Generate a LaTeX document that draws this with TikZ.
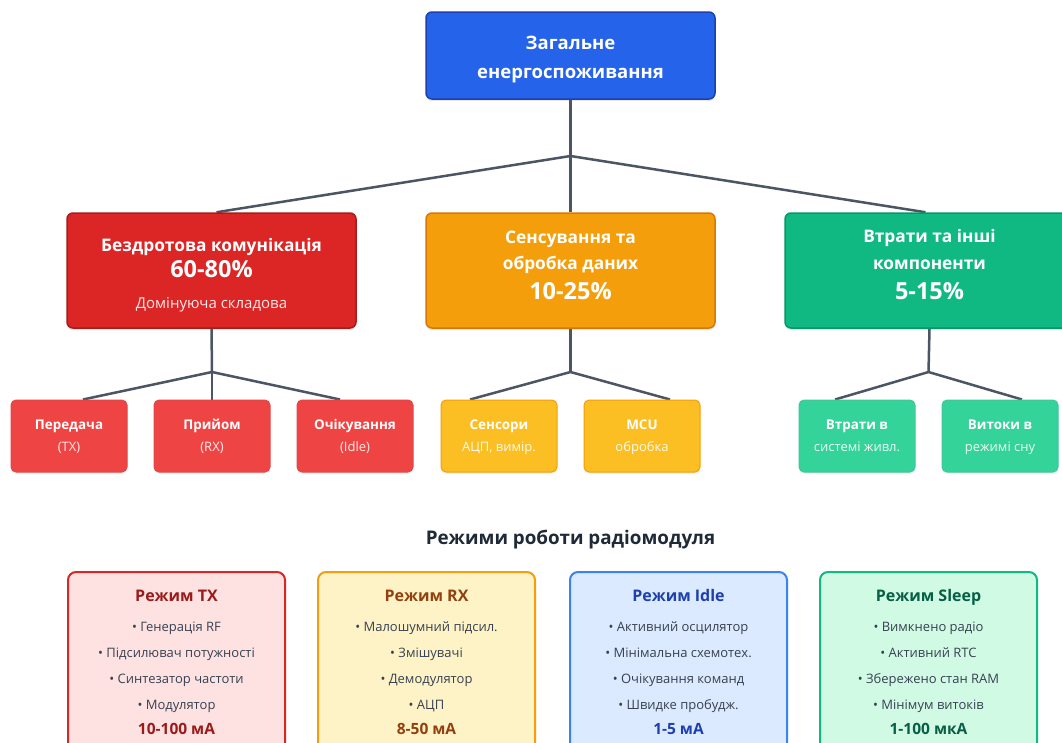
\documentclass[tikz,border=0pt]{standalone}
\usepackage{fontspec}
\setmainfont{Open Sans}
\usetikzlibrary{shadows}
\pgfdeclarelayer{background}
\pgfsetlayers{background,main}
\definecolor{blueF}{HTML}{2563EB}\definecolor{blueD}{HTML}{1E40AF}
\definecolor{redF}{HTML}{DC2626}\definecolor{redD}{HTML}{A51C1C}
\definecolor{oraF}{HTML}{F59E0B}\definecolor{oraD}{HTML}{D97706}
\definecolor{grnF}{HTML}{10B981}\definecolor{grnD}{HTML}{059669}
\definecolor{redL}{HTML}{EF4444}\definecolor{oraL}{HTML}{FBBF24}\definecolor{grnL}{HTML}{34D399}
\definecolor{lineC}{HTML}{4B5563}
\definecolor{txRed}{HTML}{991B1B}\definecolor{txOra}{HTML}{92400E}
\definecolor{txBlue}{HTML}{1E40AF}\definecolor{txGrn}{HTML}{065F46}
\definecolor{itemC}{HTML}{374151}\definecolor{headC}{HTML}{1F2937}
\definecolor{bgRed}{HTML}{FEE2E2}\definecolor{bgOra}{HTML}{FEF3C7}
\definecolor{bgBlue}{HTML}{DBEAFE}\definecolor{bgGrn}{HTML}{D1FAE5}
\definecolor{bdBlue}{HTML}{3B82F6}
\begin{document}
\begin{tikzpicture}[x=1pt,y=-1pt,
  bigbox/.style={draw, line width=1.5pt, rounded corners=6pt, minimum width=289pt, inner sep=0pt,
    drop shadow={opacity=0.18, shadow xshift=0pt, shadow yshift=-2pt}},
  childbox/.style={draw, line width=1pt, rounded corners=5pt, minimum width=116pt, minimum height=72pt, inner sep=0pt,
    drop shadow={opacity=0.12, shadow xshift=0pt, shadow yshift=-1.5pt}},
  modebox/.style={draw, line width=2pt, rounded corners=8pt, minimum width=217pt, minimum height=190pt, inner sep=0pt},
  conn/.style={draw=lineC, line width=2.5pt},
  txt/.style={inner sep=0pt, align=center, text height=0.75em, text depth=0.25em, yshift=-3.5pt},
  wt/.style={txt, text=white},
  wsub/.style={txt, text=white, text opacity=0.9},
  t16/.style={font=\fontsize{17.3}{20}\selectfont\bfseries},
  t17/.style={font=\fontsize{18.5}{22}\selectfont\bfseries},
  t22/.style={font=\fontsize{23.5}{28}\selectfont\bfseries},
  t14/.style={font=\fontsize{15}{18}\selectfont},
  c13/.style={font=\fontsize{13.4}{16}\selectfont\bfseries},
  c12/.style={font=\fontsize{13}{16}\selectfont},
  m13/.style={txt, text=itemC, font=\fontsize{13}{16}\selectfont},
  mtitle/.style={txt, font=\fontsize{16}{19}\selectfont\bfseries},
  mval/.style={txt, font=\fontsize{15.5}{18}\selectfont\bfseries},
]
\useasboundingbox (0,0) rectangle (1062,742);
\begin{pgfonlayer}{background}
\fill[white] (0,0) rectangle (1062,742);
\end{pgfonlayer}

% top
\node[bigbox, fill=blueF, draw=blueD, minimum height=87pt] (top) at (570.5,55.5) {};
\node[wt,t17] (topt1) at (570.5,43) {Загальне};
\node[wt,t17] (topt2) at (570.5,72) {енергоспоживання};

% level 1
\node[bigbox, fill=redF, draw=redD, minimum height=115pt] (red) at (211.5,270.5) {};
\node[wt,t16] (redt1) at (211.5,245) {Бездротова комунікація};
\node[wt,t22] (redt2) at (211.5,271) {60-80\%};
\node[wsub,t14] (redt3) at (211.5,302) {Домінуюча складова};

\node[bigbox, fill=oraF, draw=oraD, minimum height=115pt] (ora) at (570.5,270.5) {};
\node[wt,t16] (orat1) at (570.5,237) {Сенсування та};
\node[wt,t16] (orat2) at (570.5,263) {обробка даних};
\node[wt,t22] (orat3) at (570.5,293) {10-25\%};

\node[bigbox, fill=grnF, draw=grnD, minimum height=115pt] (grn) at (929.5,270.5) {};
\node[wt,t16] (grnt1) at (929.5,236) {Втрати та інші};
\node[wt,t16] (grnt2) at (929.5,263) {компоненти};
\node[wt,t22] (grnt3) at (929.5,293) {5-15\%};

% children
\node[childbox, fill=redL, draw=redF!85!white] (c1) at (69,436) {};
\node[wt,c13] (c1a) at (69,423) {Передача};
\node[wsub,c12] (c1b) at (69,445) {(TX)};
\node[childbox, fill=redL, draw=redF!85!white] (c2) at (212,436) {};
\node[wt,c13] (c2a) at (212,423) {Прийом};
\node[wsub,c12] (c2b) at (212,445) {(RX)};
\node[childbox, fill=redL, draw=redF!85!white] (c3) at (355,436) {};
\node[wt,c13] (c3a) at (355,423) {Очікування};
\node[wsub,c12] (c3b) at (355,445) {(Idle)};

\node[childbox, fill=oraL, draw=oraF] (c4) at (499,436) {};
\node[wt,c13] (c4a) at (499,423) {Сенсори};
\node[wsub,c12] (c4b) at (499,445) {АЦП, вимір.};
\node[childbox, fill=oraL, draw=oraF] (c5) at (642,436) {};
\node[wt,c13] (c5a) at (642,423) {MCU};
\node[wsub,c12] (c5b) at (642,445) {обробка};

\node[childbox, fill=grnL, draw=grnF!80!white] (c6) at (857,436) {};
\node[wt,c13] (c6a) at (857,423) {Втрати в};
\node[wsub,c12] (c6b) at (857,445) {системі живл.};
\node[childbox, fill=grnL, draw=grnF!80!white] (c7) at (1000,436) {};
\node[wt,c13] (c7a) at (1000,423) {Витоки в};
\node[wsub,c12] (c7b) at (1000,445) {режимі сну};

% connectors
\coordinate (j0) at (570.5,156);
\coordinate (j1) at (212,372);
\coordinate (j2) at (570.5,372);
\coordinate (j3) at (928.5,372);
\begin{pgfonlayer}{background}
\draw[conn] (top.south) -- (j0);
\draw[conn] (j0) -- ([xshift=5pt]red.north);
\draw[conn] (j0) -- (ora.north);
\draw[conn] (j0) -- ([xshift=-4pt]grn.north);
\draw[conn] (red.south) -- (j1);
\draw[conn] (j1) -- ([xshift=14pt]c1.north);
\draw[conn] (j1) -- (c2.north);
\draw[conn] (j1) -- ([xshift=-15pt]c3.north);
\draw[conn] (ora.south) -- (j2);
\draw[conn] (j2) -- ([xshift=-29pt]c4.north);
\draw[conn] (j2) -- ([xshift=28pt]c5.north);
\draw[conn] (grn.south) -- (j3);
\draw[conn] (j3) -- ([xshift=-22pt]c6.north);
\draw[conn] (j3) -- ([xshift=22pt]c7.north);
\end{pgfonlayer}

% modes
\node[txt, text=headC, font=\fontsize{18.8}{22}\selectfont\bfseries] (head) at (570.5,538) {Режими роботи радіомодуля};

\node[modebox, fill=bgRed, draw=redF] (m1) at (176.5,667) {};
\node[mtitle, text=txRed] (m1t) at (176.5,595) {Режим TX};
\node[m13] (m1a) at (176.5,625) {• Генерація RF};
\node[m13] (m1b) at (176.5,651) {• Підсилювач потужності};
\node[m13] (m1c) at (176.5,677) {• Синтезатор частоти};
\node[m13] (m1d) at (176.5,703) {• Модулятор};
\node[mval, text=txRed] (m1v) at (176.5,728) {10-100 мА};

\node[modebox, fill=bgOra, draw=oraF] (m2) at (426.5,667) {};
\node[mtitle, text=txOra] (m2t) at (426.5,595) {Режим RX};
\node[m13] (m2a) at (426.5,625) {• Малошумний підсил.};
\node[m13] (m2b) at (426.5,651) {• Змішувачі};
\node[m13] (m2c) at (426.5,677) {• Демодулятор};
\node[m13] (m2d) at (426.5,703) {• АЦП};
\node[mval, text=txOra] (m2v) at (426.5,728) {8-50 мА};

\node[modebox, fill=bgBlue, draw=bdBlue] (m3) at (678.5,667) {};
\node[mtitle, text=txBlue] (m3t) at (678.5,595) {Режим Idle};
\node[m13] (m3a) at (678.5,625) {• Активний осцилятор};
\node[m13] (m3b) at (678.5,651) {• Мінімальна схемотех.};
\node[m13] (m3c) at (678.5,677) {• Очікування команд};
\node[m13] (m3d) at (678.5,703) {• Швидке пробудж.};
\node[mval, text=txBlue] (m3v) at (678.5,728) {1-5 мА};

\node[modebox, fill=bgGrn, draw=grnF] (m4) at (928.5,667) {};
\node[mtitle, text=txGrn] (m4t) at (928.5,595) {Режим Sleep};
\node[m13] (m4a) at (928.5,625) {• Вимкнено радіо};
\node[m13] (m4b) at (928.5,651) {• Активний RTC};
\node[m13] (m4c) at (928.5,677) {• Збережено стан RAM};
\node[m13] (m4d) at (928.5,703) {• Мінімум витоків};
\node[mval, text=txGrn] (m4v) at (928.5,728) {1-100 мкА};
\end{tikzpicture}
\end{document}
